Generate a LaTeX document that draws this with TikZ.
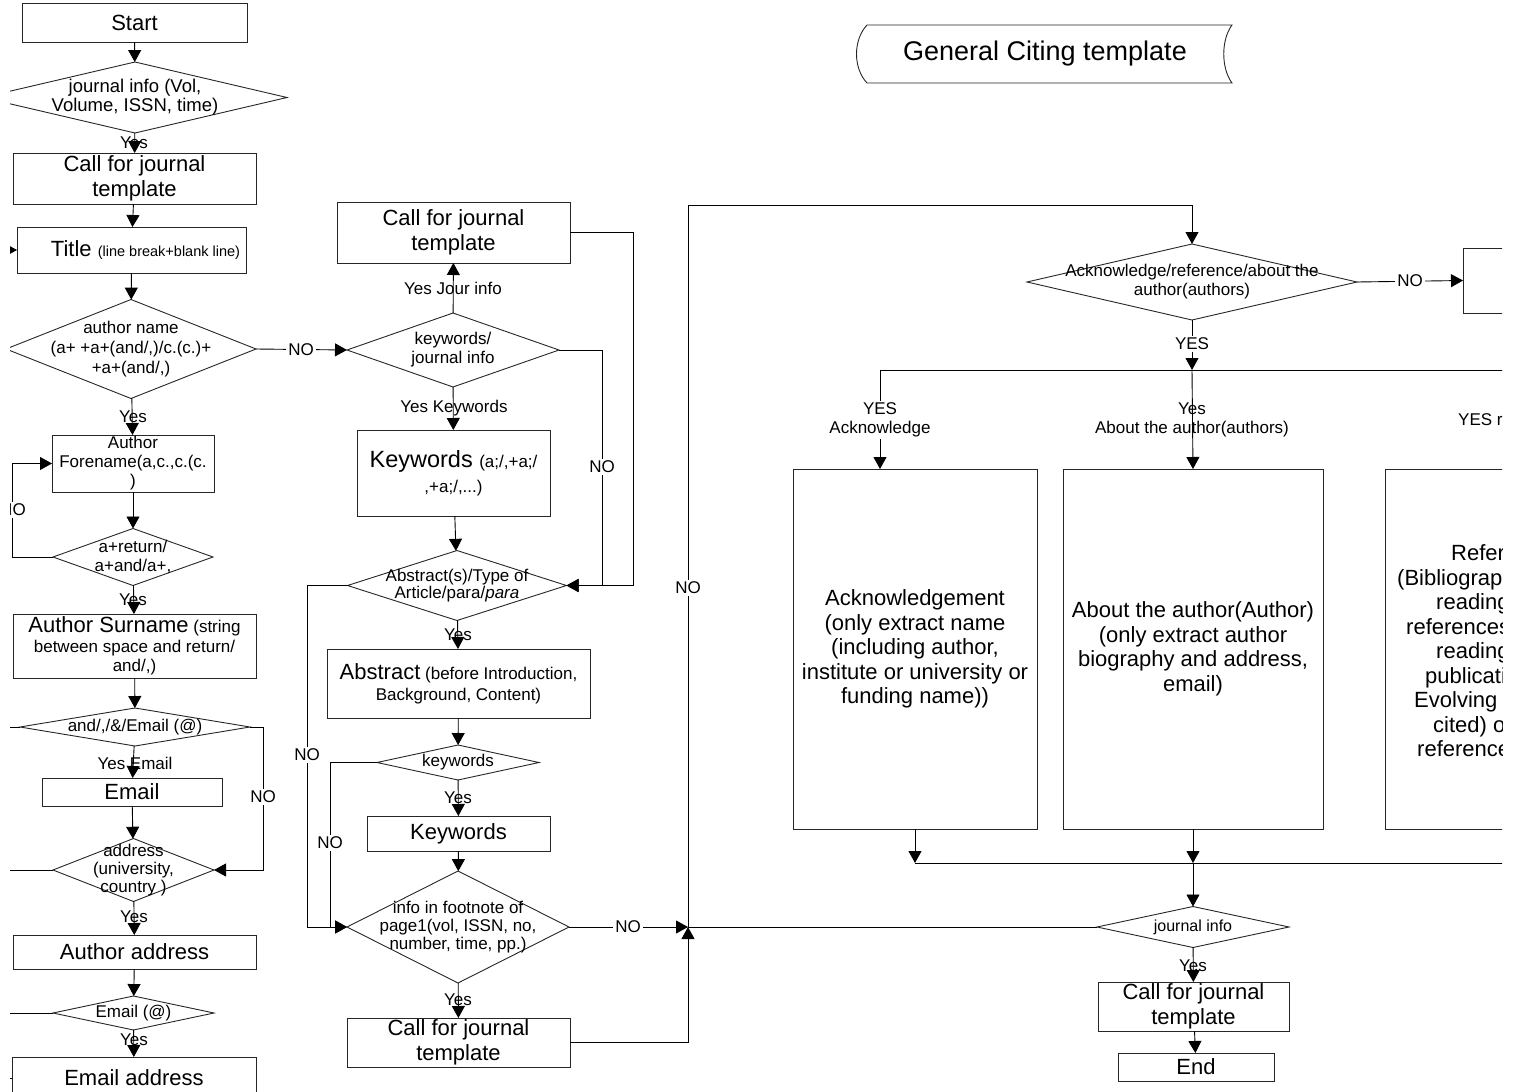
\documentclass[tikz,border=0pt]{standalone}
\usepackage{fontspec}
\setmainfont{Liberation Sans}
\usetikzlibrary{arrows.meta,shapes.geometric}

\newcommand\fbig{\fontsize{22}{24.5}\selectfont}
\newcommand\fmid{\fontsize{17}{19}\selectfont}
\newcommand\fsml{\fontsize{14.5}{16}\selectfont}
\newcommand\fttl{\fontsize{27}{30}\selectfont}

\begin{document}
\begin{tikzpicture}[x=1pt,y=-1pt,
  shapeline/.style={draw=black!85, line width=0.9pt},
  sz/.style 2 args={minimum width=#1pt, minimum height=#2pt},
  box/.style={shapeline, rectangle, inner sep=0pt, outer sep=0pt, align=center, font=\fbig},
  dia/.style={shapeline, diamond, inner sep=0pt, outer sep=0pt},
  dtext/.style={align=center, font=\fmid, inner sep=0pt},
  lbl/.style={font=\fmid, inner sep=1pt, align=center},
  cutlbl/.style={lbl, fill=white, inner sep=2pt},
  arr/.style={line width=0.9pt, -{Triangle[length=12pt,width=13pt]}},
  con/.style={line width=0.9pt},
]
\useasboundingbox (0,0) rectangle (1516,1092);
\clip (10,0) rectangle (1502,1092);

% ---------------- left column ----------------
\node[box, sz={225}{39}] (start) at (134.5,23) {Start};
\node[dia, sz={304}{71}] (d1) at (135,97.5) {};
\node[dtext, font={\fontsize{18.5}{19}\selectfont}] at (d1) {journal info (Vol,\\Volume, ISSN, time)};
\node[box, sz={243}{51}] (call1) at (134.5,178.5) {Call for journal\\template};
\node[box, sz={229}{46}] (title) at (131.5,250) {\hspace*{28pt}Title {\fsml (line break+blank line)}};
\node[dia, sz={250}{99}] (d2) at (131,349) {};
\node[dtext, font={\fontsize{17}{20}\selectfont}] at (d2) {author name\\(a+ +a+(and/,)/c.(c.)+\\+a+(and/,)};
\node[box, sz={162}{57}, font=\fmid] (fore) at (133,463.5) {Author\\Forename(a,c.,c.(c.\\)};
\node[dia, sz={160}{57}] (d3) at (133,557) {};
\node[dtext] at (d3) {a+return/\\a+and/a+,};
\node[box, sz={243}{64}, font={\fontsize{17}{19.5}\selectfont}] (sur) at (134.5,646)
  {{\fbig Author Surname} (string\\between space and return/\\and/,)};
\node[dia, sz={230}{38}] (d4) at (135,727) {};
\node[dtext] at (d4) {and/,/\&/Email (@)};
\node[box, sz={180}{28}] (email) at (132,792) {Email};
\node[dia, sz={161}{63}] (d5) at (133.5,870) {};
\node[dtext, font={\fontsize{17}{18}\selectfont}] at (d5) {address\\(university,\\country )};
\node[box, sz={243}{34}] (addr) at (134.5,952) {Author address};
\node[dia, sz={161}{34}] (d6) at (133.5,1013) {};
\node[dtext] at (d6) {Email (@)};
\node[box, sz={244}{42}] (emaddr) at (134,1078) {Email address};

% labels drawn under their arrows
\node[lbl] at (134,143) {Yes};
\node[lbl] at (133,417) {Yes};
\node[lbl] at (133,600) {Yes};
\node[lbl] at (135,763) {Yes Email};
\node[lbl] at (134,917) {Yes};
\node[lbl] at (134,1040) {Yes};

\draw[arr] (start) -- (d1);
\draw[arr] (d1) -- (call1);
\draw[arr] (call1) -- (title);
\draw[arr] (-20,250) -- (title.west);
\draw[arr] (title) -- (d2);
\draw[arr] (d2) -- (fore);
\draw[arr] (fore) -- (d3);
\draw[arr] (d3.west) -- ++(-41,0) coordinate (loopc) |- (fore.west);
\draw[arr] (d3) -- (sur);
\draw[arr] (sur) -- (d4);
\draw[arr] (d4) -- (email);
\draw[arr] (d4.east) -- (263,727) |- (d5.east);
\draw[arr] (email) -- (d5);
\draw[arr] (d5) -- (addr);
\draw[arr] (addr) -- (d6);
\draw[arr] (d6) -- (emaddr);
\draw[con] (d4.west) -- (-20,727);
\draw[con] (d5.west) -- (-20,870);
\draw[con] (d6.west) -- (-20,1013);
\draw[con] (emaddr.west) -- (-20,1078);

\node[cutlbl] at (13,510) {NO};
\node[cutlbl] at (263,797) {NO};

% ---------------- middle column ----------------
\node[box, sz={233}{61}] (call2) at (453.5,232.5) {Call for journal\\template};
\node[dia, sz={212}{74}] (d7) at (453,350) {};
\node[dtext] at (d7) {keywords/\\journal info};
\node[box, sz={193}{86}, font={\fontsize{23.5}{25}\selectfont}] (kw) at (453.5,473)
  {Keywords {\fmid (a;/,+a;/}\\{\fmid ,+a;/,...)}};
\node[dia, sz={219}{70}] (d8) at (457,585.5) {};
\node[dtext, font={\fontsize{17}{17.5}\selectfont}] at (d8) {Abstract(s)/Type of\\Article/para/\textit{para}};
\node[box, sz={263}{69}, font={\fontsize{17}{21}\selectfont}] (abs) at (458.5,683.5)
  {{\fbig Abstract} (before Introduction,\\Background, Content)};
\node[dia, sz={162}{35}] (d9) at (458,762.5) {};
\node[dtext] at (d9) {keywords};
\node[box, sz={183}{35}] (kw2) at (458.5,833.5) {Keywords};
\node[dia, sz={222}{112}] (d10) at (458,927) {};
\node[dtext, font={\fontsize{17}{18}\selectfont}] at (d10) {info in footnote of\\page1(vol, ISSN, no,\\number, time, pp.)};
\node[box, sz={223}{49}] (call3) at (458.5,1042.5) {Call for journal\\template};

\coordinate (J) at (688,927);
\coordinate (tc) at (688,205);

\node[lbl] at (453,288) {Yes Jour info};
\node[lbl] at (454,408) {Yes Keywords};
\node[lbl] at (458,635) {Yes};
\node[lbl] at (458,798) {Yes};
\node[lbl] at (458,1000) {Yes};

\draw[arr] (d2.east) -- (d7.west);
\draw[arr] (d7) -- (call2);
\draw[arr] (d7) -- (kw);
\draw[arr] (kw) -- (d8);
\draw[con] (call2.east) -| (633,585.5);
\draw[arr] (d7.east) -| (602,585.5) -- (d8.east);
\draw[arr] (633,585.5) -- (d8.east);
\draw[arr] (d8) -- (abs);
\draw[arr] (d8.west) -| (307,927) -- (d10.west);
\draw[arr] (abs) -- (d9);
\draw[arr] (d9.west) -| (330,927) -- (d10.west);
\draw[arr] (d9) -- (kw2);
\draw[arr] (kw2) -- (d10);
\draw[arr] (d10.east) -- (J);
\draw[arr] (d10) -- (call3);
\draw[arr] (call3.east) -| (J);

\node[cutlbl] at (301,350) {NO};
\node[cutlbl] at (602,467) {NO};
\node[cutlbl] at (307,755) {NO};
\node[cutlbl] at (330,843) {NO};
\node[cutlbl] at (628,927) {NO};

% ---------------- right part ----------------
\draw[shapeline] (867,25) -- (1232,25) .. controls (1221,40) and (1221,68) .. (1232,83)
  -- (867,83) .. controls (853,68) and (853,40) .. (867,25);
\node[font=\fttl] (ttl) at (1045,54) {General Citing template};

\node[dia, sz={330}{76}] (d11) at (1192,282) {};
\node[dtext] at (d11) {Acknowledge/reference/about the\\author(authors)};
\node[box, sz={154}{65}] (nobox) at (1540,280.5) {};
\coordinate (br) at (1192,370);
\coordinate (brL) at (880,370);
\coordinate (brR) at (1530,370);
\node[box, sz={244}{360}] (ack) at (915,649)
  {Acknowledgement\\(only extract name\\(including author,\\institute or university or\\funding name))};
\node[box, sz={260}{360}] (about) at (1193,649)
  {About the author(Author)\\(only extract author\\biography and address,\\email)};
\node[box, sz={260}{360}] (ref) at (1515,649) {};
\node[anchor=west, align=left, font=\fbig, inner sep=0pt] (reftext) at (1397,651)
  {\hspace*{54pt}References\\(Bibliography,\\\hspace*{39pt}reading\\\hspace*{9pt}references\\\hspace*{39pt}reading\\\hspace*{28pt}publications\\\hspace*{17pt}Evolving\\\hspace*{36pt}cited) or\\\hspace*{20pt}references};
\coordinate (mL) at (915,863);
\coordinate (m) at (1193,863);
\coordinate (mR) at (1530,863);
\node[dia, sz={192}{41}] (d12) at (1193,927) {};
\node[dtext, font=\fontsize{16}{18}\selectfont] at (d12) {journal info};
\node[box, sz={191}{49}] (call4) at (1193.5,1006.5) {Call for journal\\template};
\node[box, sz={156}{28}] (end) at (1196,1067) {End};

\node[lbl] at (1192,420) {Yes\\About the author(authors)};
\node[lbl] at (1193,966) {Yes};

\draw[arr] (J) -- (tc) -| (d11.north);
\draw[con] (J) -- (d12.west);
\draw[arr] (d11.east) -- (nobox.west);
\draw[arr] (d11.south) -- (br);
\draw[con] (brL) -- (brR);
\draw[arr] (brL) -- (brL |- ack.north);
\draw[arr] (br) -- (about.north);
\draw[arr] (ack.south) -- (mL);
\draw[arr] (about.south) -- (m);
\draw[con] (mL) -- (mR);
\draw[arr] (m) -- (d12.north);
\draw[arr] (d12) -- (call4);
\draw[arr] (call4) -- (end);

\node[cutlbl] at (688,588) {NO};
\node[cutlbl] at (1410,281) {NO};
\node[cutlbl] at (1192,344) {YES};
\node[cutlbl] at (880,420) {YES\\Acknowledge};
\node[cutlbl, anchor=west] at (1456,419) {YES references};
\end{tikzpicture}
\end{document}
